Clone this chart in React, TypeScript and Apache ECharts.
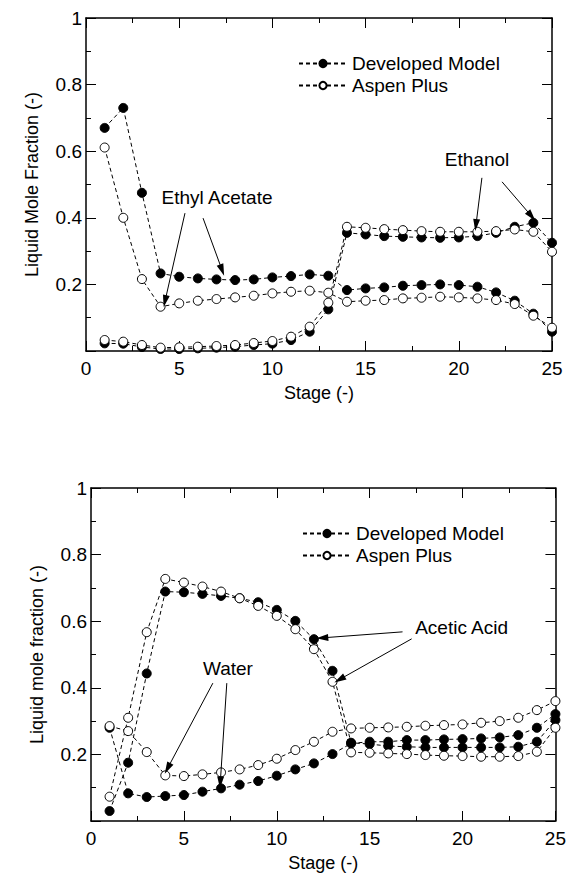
import React, { useEffect, useRef } from "react";
import * as echarts from "echarts";

const stages = [1,2,3,4,5,6,7,8,9,10,11,12,13,14,15,16,17,18,19,20,21,22,23,24,25];
const xTicks = [0, 5, 10, 15, 20, 25];
const yTicks = [0.2, 0.4, 0.6, 0.8, 1];

// Top chart: Ethyl Acetate / Ethanol
const eaDev = [0.67,0.73,0.475,0.233,0.223,0.218,0.215,0.213,0.215,0.221,0.225,0.230,0.226,0.183,0.188,0.191,0.196,0.198,0.200,0.198,0.193,0.176,0.151,0.112,0.058];
const eaAspen = [0.611,0.400,0.216,0.133,0.143,0.151,0.156,0.161,0.166,0.173,0.178,0.181,0.175,0.148,0.151,0.153,0.158,0.160,0.163,0.161,0.158,0.153,0.141,0.106,0.070];
const etDev = [0.023,0.022,0.012,0.006,0.006,0.008,0.010,0.013,0.018,0.022,0.033,0.058,0.125,0.355,0.350,0.345,0.343,0.341,0.340,0.341,0.345,0.355,0.373,0.385,0.325];
const etAspen = [0.033,0.028,0.018,0.010,0.011,0.013,0.015,0.018,0.024,0.030,0.043,0.073,0.145,0.373,0.370,0.366,0.363,0.360,0.358,0.358,0.358,0.360,0.365,0.358,0.298];

// Bottom chart: Acetic Acid / Water
const aaDev = [0.030,0.175,0.443,0.689,0.687,0.682,0.676,0.669,0.657,0.634,0.601,0.546,0.451,0.235,0.231,0.225,0.223,0.221,0.221,0.221,0.221,0.221,0.223,0.238,0.303];
const aaAspen = [0.073,0.310,0.567,0.727,0.716,0.704,0.689,0.669,0.646,0.616,0.576,0.516,0.418,0.206,0.205,0.203,0.201,0.198,0.196,0.195,0.193,0.193,0.195,0.208,0.280];
const wDev = [0.280,0.083,0.072,0.075,0.078,0.088,0.098,0.109,0.120,0.136,0.155,0.173,0.201,0.233,0.238,0.238,0.243,0.243,0.245,0.246,0.248,0.251,0.258,0.280,0.321];
const wAspen = [0.285,0.270,0.207,0.137,0.135,0.140,0.146,0.155,0.168,0.187,0.213,0.238,0.268,0.278,0.280,0.281,0.283,0.286,0.288,0.290,0.295,0.300,0.310,0.333,0.360];

const seriesNames = ["Developed Model", "Aspen Plus"];
const yTitles = ["Liquid Mole Fraction (-)", "Liquid mole fraction (-)"];
const xTitle = "Stage (-)";

// annotations in data coordinates
const labelsTop = [
  { text: "Ethyl Acetate", at: [7.03, 0.462] },
  { text: "Ethanol", at: [20.98, 0.574] },
];
const arrowsTop = [
  [[5.31, 0.414], [4.24, 0.150]],
  [[6.28, 0.399], [7.30, 0.243]],
  [[21.24, 0.520], [20.92, 0.378]],
  [[22.32, 0.508], [23.90, 0.405]],
];
const labelsBottom = [
  { text: "Acetic Acid", at: [19.95, 0.580] },
  { text: "Water", at: [7.37, 0.459] },
];
const arrowsBottom = [
  [[16.77, 0.568], [12.45, 0.550]],
  [[17.26, 0.547], [13.38, 0.425]],
  [[6.56, 0.414], [4.12, 0.158]],
  [[7.31, 0.414], [6.96, 0.116]],
];

const FONT = "'Liberation Sans', Arial, sans-serif";
const BLACK = "#000";

const grids = [
  { left: 86, top: 18, width: 466, height: 333 },
  { left: 91, top: 488, width: 465, height: 333 },
];

function pairs(vals: number[]) {
  return stages.map((s, i) => [s, vals[i]]);
}

function makeX(gridIndex: number, pos: "bottom" | "top") {
  const main = pos === "bottom";
  return {
    type: "value",
    gridIndex,
    position: pos,
    min: xTicks[0],
    max: xTicks[xTicks.length - 1],
    interval: 5,
    name: main ? xTitle : "",
    nameLocation: "middle",
    nameGap: 33,
    nameTextStyle: { fontSize: 18, color: BLACK, fontFamily: FONT },
    axisLine: { show: true, onZero: false, lineStyle: { color: BLACK, width: 1.5 } },
    axisTick: { show: true, inside: true, length: 10, lineStyle: { color: BLACK, width: 1 } },
    minorTick: { show: true, splitNumber: 2, length: 5, lineStyle: { color: BLACK, width: 1 } },
    axisLabel: { show: main, fontSize: 19, color: BLACK, margin: 8, fontFamily: FONT },
    splitLine: { show: false },
  };
}

function makeY(gridIndex: number, pos: "left" | "right", title: string) {
  const main = pos === "left";
  return {
    type: "value",
    gridIndex,
    position: pos,
    min: 0,
    max: yTicks[yTicks.length - 1],
    interval: 0.2,
    name: main ? title : "",
    nameLocation: "middle",
    nameGap: 45,
    nameTextStyle: { fontSize: 18, color: BLACK, fontFamily: FONT },
    axisLine: { show: true, onZero: false, lineStyle: { color: BLACK, width: 1.5 } },
    axisTick: { show: true, inside: true, length: 10, lineStyle: { color: BLACK, width: 1 } },
    minorTick: { show: true, splitNumber: 2, length: 5, lineStyle: { color: BLACK, width: 1 } },
    axisLabel: {
      show: main,
      fontSize: 19,
      color: BLACK,
      margin: 4,
      fontFamily: FONT,
      formatter: (v: number) => (v === 0 ? "" : String(Math.round(v * 10) / 10)),
    },
    splitLine: { show: false },
  };
}

function makeSeries(name: string, vals: number[], axis: number, filled: boolean, extra: any = {}) {
  return {
    type: "line",
    name,
    xAxisIndex: axis,
    yAxisIndex: axis,
    data: pairs(vals),
    symbol: "circle",
    symbolSize: 9,
    showSymbol: true,
    lineStyle: { color: BLACK, width: 1, type: [4, 3] },
    itemStyle: {
      color: filled ? BLACK : "#fff",
      borderColor: BLACK,
      borderWidth: 1,
    },
    z: filled ? 2 : 3,
    ...extra,
  };
}

function arrowMarkLine(arrows: number[][][]) {
  return {
    silent: true,
    symbol: ["none", "triangle"],
    symbolSize: [7, 12],
    label: { show: false },
    lineStyle: { color: BLACK, width: 1, type: "solid" },
    emphasis: { disabled: true },
    data: arrows.map(([a, b]) => [{ coord: a }, { coord: b }]),
  };
}

export default function App() {
  const ref = useRef<HTMLDivElement>(null);
  useEffect(() => {
    if (!ref.current) return;
    const chart = echarts.init(ref.current, null, { renderer: "svg" });
    const legendCommon = {
      orient: "vertical",
      padding: 0,
      itemWidth: 48,
      itemHeight: 9,
      itemGap: 3,
      textStyle: { fontSize: 19, color: BLACK, fontFamily: FONT },
      data: seriesNames,
      selectedMode: false,
    };
    const option: any = {
      animation: false,
      backgroundColor: "#fff",
      textStyle: { fontFamily: FONT },
      grid: grids.map((g) => ({ ...g, containLabel: false })),
      legend: [
        { ...legendCommon, left: grids[0].left + 212, top: grids[0].top + 36 },
        { ...legendCommon, left: grids[1].left + 211, top: grids[1].top + 36 },
      ],
      xAxis: [makeX(0, "bottom"), makeX(0, "top"), makeX(1, "bottom"), makeX(1, "top")],
      yAxis: [
        makeY(0, "left", yTitles[0]),
        makeY(0, "right", yTitles[0]),
        makeY(1, "left", yTitles[1]),
        makeY(1, "right", yTitles[1]),
      ],
      series: [
        makeSeries(seriesNames[0], eaDev, 0, true, { markLine: arrowMarkLine(arrowsTop) }),
        makeSeries(seriesNames[0], etDev, 0, true),
        makeSeries(seriesNames[1], eaAspen, 0, false),
        makeSeries(seriesNames[1], etAspen, 0, false),
        makeSeries(seriesNames[0], aaDev, 2, true, { markLine: arrowMarkLine(arrowsBottom) }),
        makeSeries(seriesNames[0], wDev, 2, true),
        makeSeries(seriesNames[1], aaAspen, 2, false),
        makeSeries(seriesNames[1], wAspen, 2, false),
      ],
    };
    chart.setOption(option);
    const texts: any[] = [];
    [labelsTop, labelsBottom].forEach((list, gi) => {
      list.forEach((l) => {
        const p = chart.convertToPixel({ xAxisIndex: gi * 2, yAxisIndex: gi * 2 }, l.at) as number[];
        texts.push({
          type: "text",
          x: p[0],
          y: p[1],
          style: {
            text: l.text,
            fontSize: 19,
            fontFamily: FONT,
            fill: BLACK,
            align: "center",
            verticalAlign: "middle",
          },
          silent: true,
        });
      });
    });
    chart.setOption({ graphic: texts });
    return () => chart.dispose();
  }, []);
  return (
    <div
      ref={ref}
      style={{ position: "fixed", left: 0, top: 0, width: 569, height: 880, background: "#fff" }}
    />
  );
}
